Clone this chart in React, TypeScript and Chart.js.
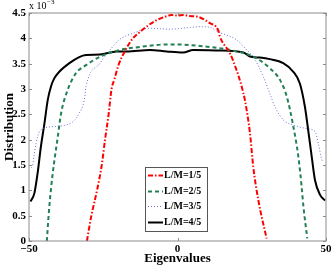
import React, { useEffect, useRef } from 'react';
import { Chart, registerables } from 'chart.js';

Chart.register(...registerables);

const FONT = "'Liberation Serif', 'Times New Roman', serif";

const xTickValues = [-50, 0, 50];
const yTickValues = [0, 0.5, 1, 1.5, 2, 2.5, 3, 3.5, 4, 4.5];
const seriesLabels = ['L/M=1/5', 'L/M=2/5', 'L/M=3/5', 'L/M=4/5'];
const xTitle = 'Eigenvalues';
const yTitle = 'Distribution';

// values in units of 1e-3
const redX = [-30.5, -29, -27.1, -25.5, -24.4, -23.2, -22.2, -21.2, -20, -17.7, -15, -12.6, -10, -7, -4, -2, 0, 2, 4, 6.5, 10.9, 13.7, 14.3, 17.7, 19.9, 21.6, 22.7, 24.4, 25.5, 27.2, 30];
const redY = [0, 0.5, 1.0, 1.5, 2.0, 2.5, 3.0, 3.2, 3.45, 3.75, 4.0, 4.13, 4.25, 4.36, 4.43, 4.46, 4.45, 4.46, 4.44, 4.43, 4.3, 4.16, 4.03, 3.7, 3.37, 3.05, 2.78, 2.13, 1.47, 0.81, 0.05];

const greenX = [-44, -43.2, -42, -40.3, -39.2, -37, -34.2, -30.8, -26, -19.4, -12.6, -3.6, 0, 7.6, 13.6, 17.7, 25.5, 31.1, 34.5, 36.8, 39, 40.7, 41.8, 42.4, 43.7];
const greenY = [0, 0.65, 1.34, 2.06, 2.52, 2.98, 3.31, 3.47, 3.64, 3.77, 3.83, 3.88, 3.88, 3.85, 3.81, 3.77, 3.64, 3.41, 3.18, 2.85, 2.26, 1.66, 1.07, 0.68, 0.05];

const blueX = [-49.2, -48.8, -48.2, -47.1, -46, -44.3, -40.9, -37.5, -35.3, -33.1, -31.4, -30.8, -26.1, -22.7, -19.7, -14.9, -9.3, -2.5, 1.9, 7.6, 10.9, 13.6, 19.9, 23.3, 25.5, 28.9, 31.1, 32.8, 35.6, 39, 43.5, 46.3, 47.4, 48.6, 48.9];
const blueY = [1.45, 1.48, 1.73, 2.06, 2.19, 2.24, 2.26, 2.29, 2.35, 2.52, 2.78, 3.05, 3.51, 3.77, 3.97, 4.1, 4.2, 4.18, 4.2, 4.23, 4.22, 4.13, 3.97, 3.77, 3.64, 3.24, 2.91, 2.65, 2.39, 2.29, 2.22, 2.16, 1.93, 1.6, 1.57];

const blackX = [-49.5, -48.2, -47.1, -46, -44.8, -43.7, -42.6, -41.5, -39.8, -36.4, -33.1, -30.8, -26.1, -20.5, -17.1, -9.3, -3.6, 1.9, 5.3, 13.2, 22.2, 24.4, 27.8, 31.1, 35.6, 39, 41.2, 42.9, 44, 45.2, 46.3, 48, 49.7];
const blackY = [0.78, 0.94, 1.34, 1.86, 2.32, 2.78, 3.05, 3.21, 3.34, 3.51, 3.63, 3.67, 3.68, 3.74, 3.74, 3.77, 3.74, 3.72, 3.77, 3.76, 3.72, 3.64, 3.62, 3.59, 3.51, 3.34, 3.11, 2.65, 2.19, 1.66, 1.2, 0.91, 0.8];

const colors = ['#ff0000', 'rgb(34,128,85)', 'rgb(105,115,215)', '#000000'];
const dashes: number[][] = [[5, 2, 1.5, 2], [4, 3], [1, 2], []];
const widths = [2, 2, 1, 2];

const toPoints = (xs: number[], ys: number[]) => xs.map((x, i) => ({ x, y: ys[i] }));

const framePlugin = {
  id: 'matlabFrame',
  afterDraw(chart: any) {
    const ctx = chart.ctx;
    const { left, right, top, bottom } = chart.chartArea;
    const xs = chart.scales.x;
    const ys = chart.scales.y;
    ctx.save();
    ctx.strokeStyle = '#8c8c8c';
    ctx.lineWidth = 1;
    ctx.strokeRect(left, top, right - left, bottom - top);
    ctx.beginPath();
    yTickValues.forEach((v) => {
      const py = Math.round(ys.getPixelForValue(v)) + 0.5;
      ctx.moveTo(left, py);
      ctx.lineTo(left + 3, py);
      ctx.moveTo(right, py);
      ctx.lineTo(right - 3, py);
    });
    xTickValues.forEach((v) => {
      const px = Math.round(xs.getPixelForValue(v)) + 0.5;
      ctx.moveTo(px, bottom);
      ctx.lineTo(px, bottom - 3);
      ctx.moveTo(px, top);
      ctx.lineTo(px, top + 3);
    });
    ctx.stroke();

    ctx.fillStyle = '#000';
    ctx.font = `bold 13px ${FONT}`;
    ctx.textAlign = 'center';
    ctx.textBaseline = 'alphabetic';
    ctx.fillText(xTitle, (left + right) / 2, 262);
    ctx.save();
    ctx.translate(13, (top + bottom) / 2);
    ctx.rotate(-Math.PI / 2);
    ctx.fillText(yTitle, 0, 0);
    ctx.restore();

    ctx.textAlign = 'left';
    ctx.font = `10px ${FONT}`;
    ctx.fillText('x 10', 29, 9);
    const w = ctx.measureText('x 10').width;
    ctx.font = `7px ${FONT}`;
    ctx.fillText('\u22123', 29 + w + 0.5, 4);

    const lx = 145, ly = 167, lw = 62, lh = 64;
    ctx.fillStyle = '#fff';
    ctx.fillRect(lx, ly, lw, lh);
    ctx.strokeStyle = '#555';
    ctx.lineWidth = 1;
    ctx.strokeRect(lx + 0.5, ly + 0.5, lw, lh);
    ctx.font = `bold 10px ${FONT}`;
    ctx.textBaseline = 'middle';
    seriesLabels.forEach((lab, i) => {
      const cy = 175 + i * 15.5;
      ctx.save();
      ctx.strokeStyle = colors[i];
      ctx.lineWidth = widths[i];
      ctx.setLineDash(dashes[i]);
      ctx.beginPath();
      ctx.moveTo(148, Math.round(cy) + 0.5);
      ctx.lineTo(163, Math.round(cy) + 0.5);
      ctx.stroke();
      ctx.restore();
      ctx.fillStyle = '#000';
      ctx.fillText(lab, 164, cy + 0.5);
    });
    ctx.restore();
  },
};

export default function App() {
  const ref = useRef<HTMLCanvasElement | null>(null);
  useEffect(() => {
    if (!ref.current) return;
    const series = [
      toPoints(redX, redY),
      toPoints(greenX, greenY),
      toPoints(blueX, blueY),
      toPoints(blackX, blackY),
    ];
    const chart = new Chart(ref.current, {
      type: 'line',
      data: {
        datasets: series.map((pts, i) => ({
          label: seriesLabels[i],
          data: pts,
          borderColor: colors[i],
          backgroundColor: colors[i],
          borderWidth: widths[i],
          borderDash: dashes[i],
          pointRadius: 0,
          fill: false,
          cubicInterpolationMode: 'monotone' as const,
        })),
      },
      options: {
        animation: false,
        responsive: false,
        devicePixelRatio: 1,
        layout: { padding: { top: 13, right: 6, left: 0, bottom: 0 } },
        plugins: { legend: { display: false }, tooltip: { enabled: false } },
        scales: {
          x: {
            type: 'linear',
            min: -50,
            max: 50,
            afterBuildTicks: (s: any) => {
              s.ticks = xTickValues.map((v) => ({ value: v }));
            },
            afterFit: (s: any) => {
              s.height = 26;
              s.paddingLeft = 0;
              s.paddingRight = 0;
            },
            grid: { display: false, drawTicks: false },
            border: { display: false },
            ticks: {
              padding: 2,
              color: '#000',
              maxRotation: 0,
              autoSkip: false,
              font: { family: FONT, size: 11, weight: 'bold' },
              callback: (v: any) => (v < 0 ? '\u2212' + Math.abs(v) : String(v)),
            },
          },
          y: {
            type: 'linear',
            min: 0,
            max: 4.5,
            afterBuildTicks: (s: any) => {
              s.ticks = yTickValues.map((v) => ({ value: v }));
            },
            afterFit: (s: any) => {
              s.width = 29;
              s.paddingTop = 0;
              s.paddingBottom = 0;
            },
            grid: { display: false, drawTicks: false },
            border: { display: false },
            ticks: {
              padding: 3,
              color: '#000',
              autoSkip: false,
              font: { family: FONT, size: 11, weight: 'bold' },
              callback: (v: any) => String(v),
            },
          },
        },
      } as any,
      plugins: [framePlugin],
    });
    return () => chart.destroy();
  }, []);
  return (
    <div style={{ position: 'fixed', left: 0, top: 0, width: 332, height: 267, background: '#fff' }}>
      <canvas ref={ref} width={332} height={267} style={{ width: 332, height: 267 }} />
    </div>
  );
}
